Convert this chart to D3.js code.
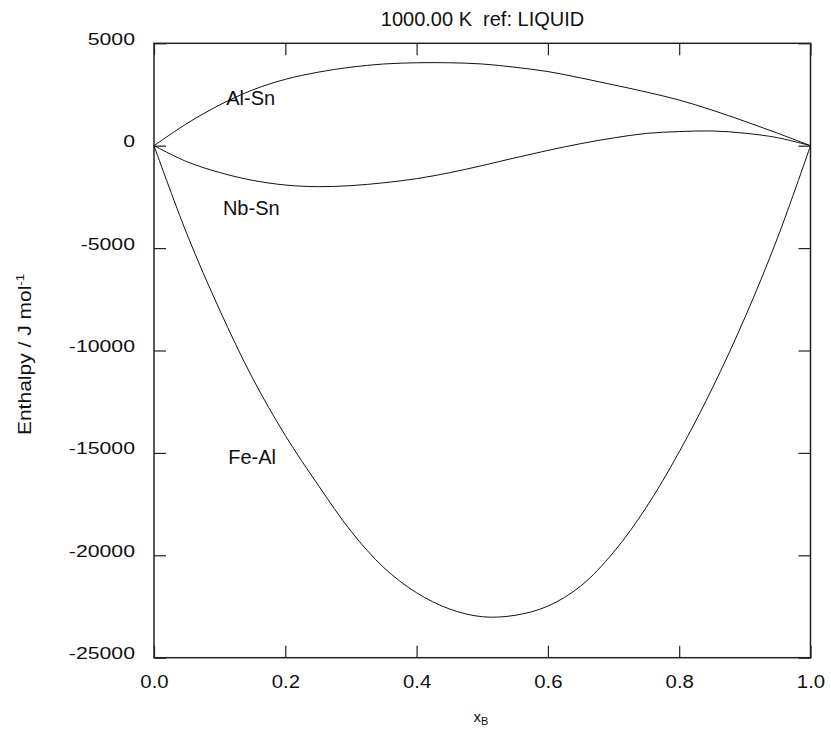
<!DOCTYPE html>
<html>
<head>
<meta charset="utf-8">
<script src="https://cdn.jsdelivr.net/npm/d3@7"></script>
<style>
  body { margin: 0; background: #fff; }
  text { font-family: Arial, "Liberation Sans", sans-serif; fill: #111; }
  .frame { fill: none; stroke: #222; stroke-width: 1.5; }
  .tick line { stroke: #222; stroke-width: 1.2; }
  .curve { fill: none; stroke: #111; stroke-width: 1; }
</style>
</head>
<body>
<script>
const width = 831,
  height = 729;

// x_B sample points
const xB = [0, 0.05, 0.1, 0.15, 0.2, 0.25, 0.3, 0.35, 0.4, 0.45, 0.5, 0.55,
  0.6, 0.65, 0.7, 0.75, 0.8, 0.85, 0.9, 0.95, 1.0];

const alSn = [0, 1080, 1990, 2720, 3240, 3590, 3835, 3990, 4050, 4050, 3990,
  3830, 3620, 3310, 2970, 2620, 2230, 1740, 1190, 610, 0];

const nbSn = [0, -780, -1310, -1690, -1920, -2000, -1950, -1810, -1610, -1320,
  -970, -590, -230, 100, 380, 600, 690, 720, 610, 390, 0];

const feAl = [0, -4300, -8020, -11340, -14150, -16570, -18820, -20600, -21830,
  -22620, -23000, -22930, -22480, -21500, -19850, -17650, -14950, -11870,
  -8400, -4480, 0];

const xTicks = [0, 0.2, 0.4, 0.6, 0.8, 1.0];
const yTicks = [5000, 0, -5000, -10000, -15000, -20000, -25000];

const series = [
  { name: "Al-Sn", values: alSn, at: [0.11, 2000] },
  { name: "Nb-Sn", values: nbSn, at: [0.105, -3400] },
  { name: "Fe-Al", values: feAl, at: [0.113, -15560] },
];

const x = d3.scaleLinear().domain([0, 1]).range([154, 810.5]);
const y = d3.scaleLinear().domain([-25000, 5000]).range([657.7, 43.3]);

const svg = d3
  .select("body")
  .append("svg")
  .attr("width", width)
  .attr("height", height);

// stretch text horizontally (the original's tick fonts are wide)
function stretch(sel, k) {
  sel.each(function () {
    const w = this.getComputedTextLength();
    d3.select(this)
      .attr("textLength", w * k)
      .attr("lengthAdjust", "spacingAndGlyphs");
  });
}

// Axes with inward ticks
const gBottom = svg
  .append("g")
  .attr("transform", `translate(0,${y.range()[0]})`)
  .call(d3.axisBottom(x).tickValues(xTicks).tickSize(-12).tickPadding(30)
    .tickFormat((d) => d.toFixed(1)));
gBottom.selectAll("text").attr("dy", 0).style("font-size", "18.5px");
stretch(gBottom.selectAll("text"), 1.1);

svg
  .append("g")
  .attr("transform", `translate(0,${y.range()[1]})`)
  .call(d3.axisTop(x).tickValues(xTicks).tickSize(-12).tickFormat(""));

const gLeft = svg
  .append("g")
  .attr("transform", `translate(${x.range()[0]},0)`)
  .call(d3.axisLeft(y).tickValues(yTicks).tickSize(-12).tickPadding(19)
    .tickFormat((d) => String(d)));
gLeft.selectAll("text").attr("dy", "0.06em").style("font-size", "17px");
stretch(gLeft.selectAll("text"), 1.25);

svg
  .append("g")
  .attr("transform", `translate(${x.range()[1]},0)`)
  .call(d3.axisRight(y).tickValues(yTicks).tickSize(-12).tickFormat(""));

svg.selectAll(".domain").remove();

// Frame
svg
  .append("rect")
  .attr("class", "frame")
  .attr("x", x.range()[0])
  .attr("y", y.range()[1])
  .attr("width", x.range()[1] - x.range()[0])
  .attr("height", y.range()[0] - y.range()[1]);

// Curves
const line = d3
  .line()
  .x((d, i) => x(xB[i]))
  .y((d) => y(d))
  .curve(d3.curveCatmullRom.alpha(0.5));

series.forEach((s) => {
  svg.append("path").attr("class", "curve").attr("d", line(s.values));
  svg
    .append("text")
    .attr("x", x(s.at[0]))
    .attr("y", y(s.at[1]))
    .style("font-size", "20px")
    .text(s.name);
});

// Title
svg
  .append("text")
  .attr("x", 482.5)
  .attr("y", 26)
  .attr("text-anchor", "middle")
  .style("font-size", "20px")
  .style("white-space", "pre")
  .text("1000.00 K  ref: LIQUID");

// x axis title
const xt = svg
  .append("text")
  .attr("x", 481)
  .attr("y", 722)
  .attr("text-anchor", "middle")
  .style("font-size", "15px");
xt.append("tspan").text("x");
xt.append("tspan").attr("dy", 3).style("font-size", "11px").text("B");

// y axis title
const yt = svg
  .append("text")
  .attr("transform", `translate(31,354.5) rotate(-90)`)
  .attr("text-anchor", "middle")
  .style("font-size", "17.5px");
yt.append("tspan").text("Enthalpy / J mol");
yt.append("tspan").attr("dy", -7).style("font-size", "11px").text("-1");
stretch(yt, 1.2);
</script>
</body>
</html>
